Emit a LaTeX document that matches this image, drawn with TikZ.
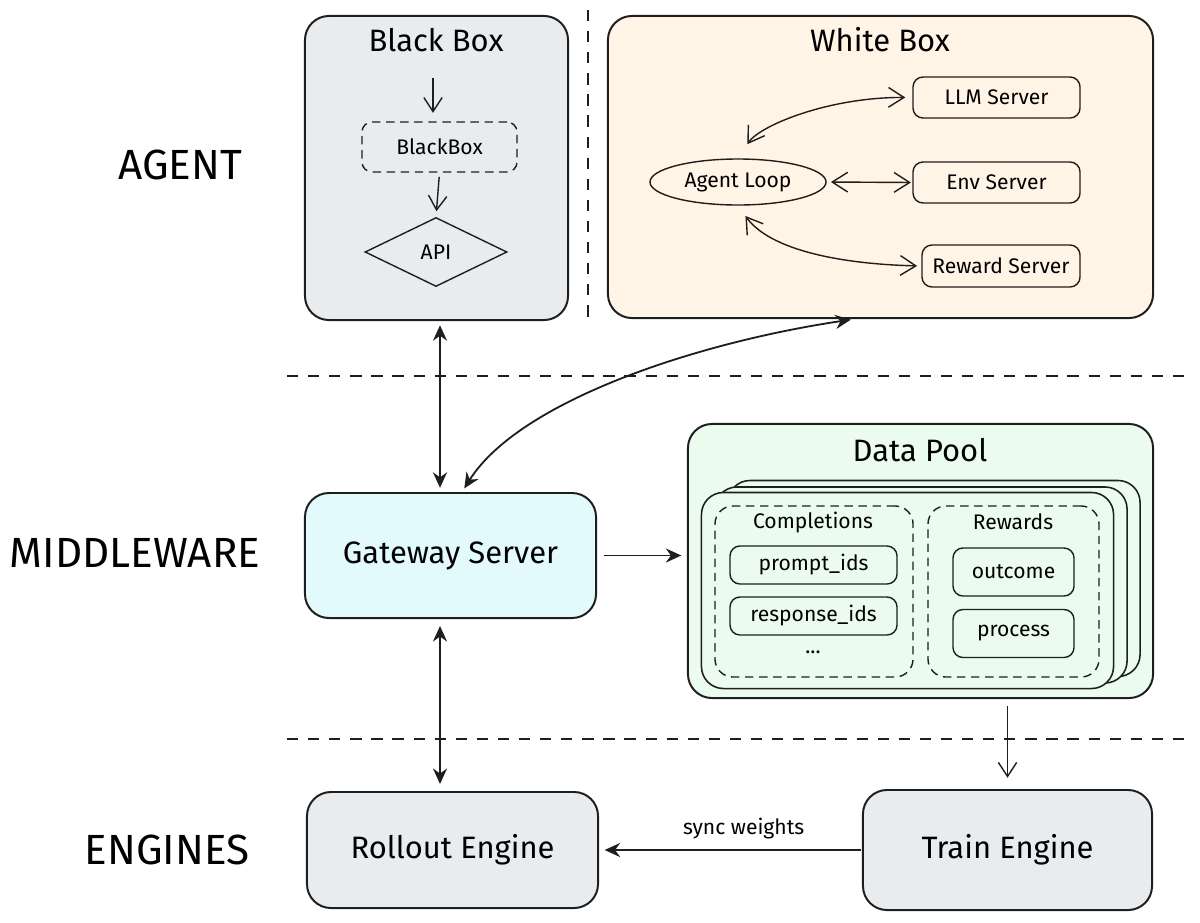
\documentclass[tikz,border=0pt]{standalone}
\usepackage{fontspec}
\setmainfont{Fira Sans}
\usetikzlibrary{shapes.geometric, arrows.meta, positioning, calc}
\usepackage{xcolor}
\definecolor{ink}{RGB}{30,30,30}
\definecolor{greyfill}{RGB}{233,236,239}
\definecolor{peach}{RGB}{255,244,230}
\definecolor{cyanfill}{RGB}{227,250,252}
\definecolor{mint}{RGB}{235,251,238}
\newcommand{\titlefont}{\fontsize{22}{26}\selectfont}
\newcommand{\itemfont}{\fontsize{15}{18}\selectfont}
\newcommand{\sidefont}{\fontsize{30}{34}\selectfont}

\begin{document}
\begin{tikzpicture}[
      x=0.025cm, y=-0.025cm,
      panel/.style={rectangle, rounded corners=0.6cm, draw=ink, line width=1.4pt},
      item/.style={rectangle, rounded corners=0.25cm, draw=ink, line width=1pt,
                   font=\itemfont, align=center},
      dbox/.style={item, dash pattern=on 6pt off 4pt},
      title/.style={font=\titlefont},
      side/.style={font=\sidefont},
      sep/.style={draw=ink, line width=1.4pt, dash pattern=on 8pt off 7pt},
      arr/.style={-{Straight Barb[length=10pt,width=13pt]}, line width=1pt, draw=ink},
      warr/.style={{Straight Barb[length=11pt,width=14pt]}-{Straight Barb[length=11pt,width=14pt]},
                   line width=1pt, draw=ink},
      farr/.style={-{Stealth[length=11pt,width=10pt]}, line width=1.4pt, draw=ink},
      darr/.style={{Stealth[length=11pt,width=10pt]}-{Stealth[length=11pt,width=10pt]},
                   line width=1.3pt, draw=ink}
    ]
    \useasboundingbox (0,0) rectangle (1200,922);

    % layer labels and separators
    \node[side] (lagent) at (180,165) {AGENT};
    \node[side] (lmid) at (135,553) {MIDDLEWARE};
    \node[side] (leng) at (167,850) {ENGINES};
    \draw[sep] (588,10) -- (588,325);
    \draw[sep] (287,376) -- (1190,376);
    \draw[sep] (287,739) -- (1190,739);

    % black box agent
    \node[panel, fill=greyfill, minimum width=6.575cm, minimum height=7.6cm] (bb) at (436.5,168) {};
    \node[title] (bbt) at (436,40) {Black Box};
    \node[dbox, minimum width=3.875cm, minimum height=1.25cm] (bbi) at (439.5,147) {BlackBox};
    \node[diamond, draw=ink, line width=1pt, font=\itemfont, inner sep=0pt,
          minimum width=3.55cm, minimum height=1.725cm] (api) at (436,252) {API};
    \coordinate (bbin) at (433,78);
    \draw[arr, shorten >=6pt] (bbin) -- (bbin |- bbi.north);
    \draw[arr, shorten <=3pt, shorten >=4pt] (bbi.south) -- (api.north);

    % white box agent
    \node[panel, fill=peach, minimum width=13.625cm, minimum height=7.55cm] (wb) at (880.5,167) {};
    \node[title] (wbt) at (880,40) {White Box};
    \node[item, minimum width=4.175cm, minimum height=1.025cm] (llm) at (996.5,97.5) {LLM Server};
    \node[item, minimum width=4.175cm, minimum height=1.025cm] (env) at (996.5,182.5) {Env Server};
    \node[item, minimum width=3.95cm, minimum height=1.05cm] (rew) at (1001,266) {Reward Server};
    \node[ellipse, draw=ink, line width=1pt, font=\itemfont, inner sep=0pt,
          minimum width=4.4cm, minimum height=1.15cm] (loop) at (738,182) {Agent Loop};
    \draw[warr, shorten <=12pt, shorten >=5pt] (loop.north) .. controls (760,125) and (830,97) .. (llm.west);
    \draw[warr, shorten <=3pt, shorten >=1pt] (loop.east) -- (env.west);
    \draw[warr, shorten <=9pt, shorten >=3pt] (loop.south) .. controls (770,250) and (840,264) .. (rew.west);

    % middleware
    \node[panel, fill=cyanfill, font=\titlefont, minimum width=7.275cm, minimum height=3.125cm] (gw) at (450.5,555.5) {Gateway Server};
    \node[panel, fill=mint, minimum width=11.625cm, minimum height=6.85cm] (dp) at (920.5,561) {};
    \node[title] (dpt) at (920,450) {Data Pool};
    \foreach \cx/\cy [count=\i] in {934/578.5, 921/585, 907.5/590.5}
      \node[panel, line width=1.1pt, rounded corners=0.55cm, fill=mint,
            minimum width=10.3cm, minimum height=4.9cm] (card\i) at (\cx,\cy) {};
    \node[dbox, rounded corners=0.45cm, minimum width=4.95cm, minimum height=4.275cm] (comp) at (814,591.5) {};
    \node[font=\itemfont] (compt) at (813,523) {Completions};
    \node[item, minimum width=4.175cm, minimum height=0.95cm] (pid) at (813.5,565) {prompt\_ids};
    \node[item, minimum width=4.175cm, minimum height=0.95cm] (rid) at (813.5,616) {response\_ids};
    \node[font=\itemfont] (dots) at (813,652) {...};
    \node[dbox, rounded corners=0.45cm, minimum width=4.275cm, minimum height=4.275cm] (rwd) at (1013.5,591.5) {};
    \node[font=\itemfont] (rwdt) at (1013,522) {Rewards};
    \node[item, minimum width=3.025cm, minimum height=1.2cm] (outc) at (1013.5,572) {outcome};
    \node[item, minimum width=3.025cm, minimum height=1.2cm] (proc) at (1013.5,633.5) {process};

    % engines
    \node[panel, fill=greyfill, font=\titlefont, minimum width=7.275cm, minimum height=2.9cm] (ro) at (452.5,850) {Rollout Engine};
    \node[panel, fill=greyfill, font=\titlefont, minimum width=7.225cm, minimum height=3cm] (tr) at (1007.5,850) {Train Engine};

    % connections between layers
    \coordinate (ax) at (440,0);
    \coordinate (wx) at (855,0);
    \coordinate (gx) at (462,0);
    \draw[darr, shorten <=3pt, shorten >=3pt] (bb.south -| ax) -- (gw.north -| ax);
    \draw[darr, shorten <=3pt, shorten >=3pt] (wb.south -| wx) .. controls (700,342) and (520,400) .. (gw.north -| gx);
    \draw[farr, shorten <=5pt, shorten >=4pt] (gw.east) -- (gw.east -| dp.west);
    \draw[arr, shorten <=5pt, shorten >=8pt] (dp.south -| tr.north) -- (tr.north);
    \draw[darr, shorten <=5pt, shorten >=5pt] (gw.south -| ax) -- (ro.north -| ax);
    \draw[farr, shorten <=1pt, shorten >=4pt] (tr.west) -- node[pos=0.45, above=4pt, font=\itemfont] (sync) {sync weights} (ro.east);
  \end{tikzpicture}
\end{document}
